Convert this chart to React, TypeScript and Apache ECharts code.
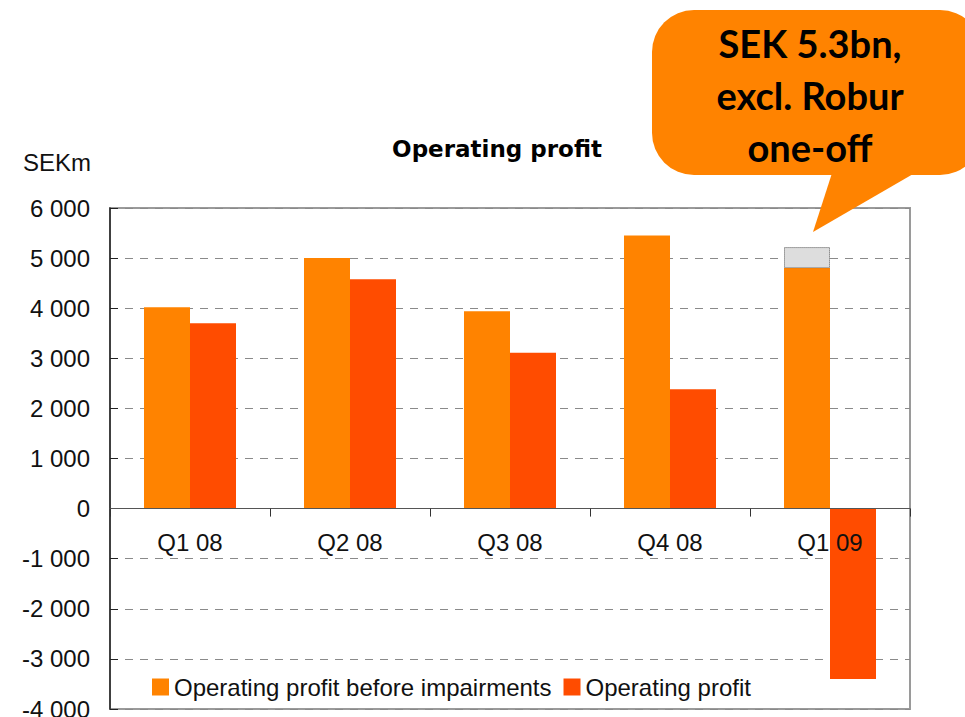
import React, { useEffect, useRef } from "react";
import * as echarts from "echarts";

const categories = ["Q1 08", "Q2 08", "Q3 08", "Q4 08", "Q1 09"];
const beforeImpairments = [4020, 5000, 3940, 5450, 4800];
const operatingProfit = [3700, 4580, 3110, 2380, -3400];
const roburOneOff: (number | string)[] = ["-", "-", "-", "-", 420];
const yTicks = { min: -4000, max: 6000, interval: 1000 };
const calloutLines = ["SEK 5.3bn,", "excl. Robur", "one-off"];

const fmt = (v: number) => {
  const s = Math.abs(v).toString();
  const withSpace = s.length > 3 ? s.slice(0, s.length - 3) + " " + s.slice(s.length - 3) : s;
  return (v < 0 ? "-" : "") + withSpace;
};

export default function App() {
  const ref = useRef<HTMLDivElement>(null);
  useEffect(() => {
    if (!ref.current) return;
    const chart = echarts.init(ref.current, undefined, { renderer: "svg" });
    const font = "'Liberation Sans', Arial, sans-serif";
    const gridTop = 208;
    const gridBottom = 8;
    const gridHeight = 717 - gridTop - gridBottom;
    const zeroFromBottom = ((0 - yTicks.min) / (yTicks.max - yTicks.min)) * gridHeight;
    chart.setOption({
      animation: false,
      grid: {
        left: 110,
        top: gridTop,
        right: 55,
        bottom: gridBottom,
        show: true,
        borderColor: "#9a9a9a",
        borderWidth: 2,
        backgroundColor: "transparent",
        outerBoundsMode: "none",
        containLabel: false,
      },
      legend: {
        data: ["Operating profit before impairments", "Operating profit"],
        left: 147,
        top: 670,
        itemWidth: 17,
        itemHeight: 17,
        itemGap: 12,
        icon: "rect",
        textStyle: { fontFamily: font, fontSize: 24, color: "#111" },
      },
      xAxis: {
        type: "category",
        data: categories,
        position: "bottom",
        offset: -zeroFromBottom,
        z: 5,
        axisLine: { onZero: false, lineStyle: { color: "#555", width: 1 } },
        axisTick: { show: true, inside: false, length: 8, lineStyle: { color: "#333" } },
        axisLabel: { fontFamily: font, fontSize: 24, color: "#111", margin: 22 },
        splitLine: { show: false },
      },
      yAxis: {
        type: "value",
        min: yTicks.min,
        max: yTicks.max,
        interval: yTicks.interval,
        axisLine: { show: true, lineStyle: { color: "#222", width: 1.5 } },
        axisTick: { show: true, inside: true, length: 8, lineStyle: { color: "#222" } },
        axisLabel: {
          fontFamily: font,
          fontSize: 24,
          color: "#111",
          margin: 20,
          formatter: (v: number) => fmt(v),
        },
        splitLine: { show: true, lineStyle: { color: "#8a8a8a", type: [8, 7], width: 1 } },
      },
      series: [
        {
          name: "Operating profit before impairments",
          type: "bar",
          stack: "a",
          data: beforeImpairments,
          barWidth: 46,
          barGap: "0%",
          itemStyle: { color: "#FF8300" },
        },
        {
          name: "Robur one-off",
          type: "bar",
          stack: "a",
          data: roburOneOff,
          barWidth: 46,
          itemStyle: {
            color: "#DDDDDD",
            borderColor: "#555",
            borderWidth: 1,
            borderType: "dotted",
          },
        },
        {
          name: "Operating profit",
          type: "bar",
          data: operatingProfit,
          barWidth: 46,
          barGap: "0%",
          itemStyle: { color: "#FF4C00" },
        },
      ],
      graphic: [
        {
          type: "text",
          left: 23,
          top: 150,
          style: { text: "SEKm", fontFamily: font, fontSize: 24, fill: "#111" },
        },
        {
          type: "text",
          x: 497,
          y: 149,
          style: {
            text: "Operating profit",
            fontFamily: "'DejaVu Sans', sans-serif",
            fontWeight: "bold",
            fontSize: 23,
            fill: "#000",
            align: "center",
            verticalAlign: "middle",
          },
        },
        {
          type: "rect",
          shape: { x: 652, y: 10, width: 330, height: 165, r: 42 },
          style: { fill: "#FF8300" },
          z: 10,
        },
        {
          type: "polygon",
          shape: { points: [[833, 170], [920, 170], [813, 232]] },
          style: { fill: "#FF8300" },
          z: 10,
        },
        ...calloutLines.map((t, i) => ({
          type: "text",
          x: 810,
          y: 43 + i * 52,
          z: 11,
          style: {
            text: t,
            fontFamily: "Lato, 'Open Sans', sans-serif",
            fontWeight: "bold",
            fontSize: 38,
            fill: "#000",
            align: "center",
            verticalAlign: "middle",
          },
        })),
      ],
    });
    return () => chart.dispose();
  }, []);
  return (
    <div
      ref={ref}
      style={{ position: "fixed", left: 0, top: 0, width: 965, height: 717, background: "#fff" }}
    />
  );
}
